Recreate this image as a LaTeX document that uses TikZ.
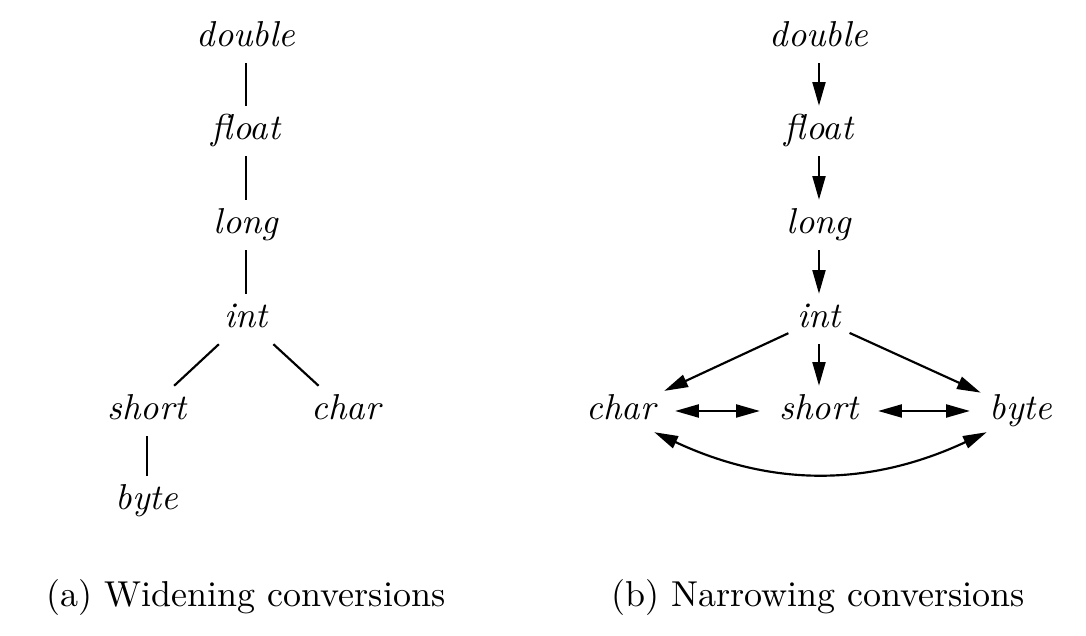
\documentclass[tikz,border=0pt]{standalone}
\usetikzlibrary{arrows.meta}
\begin{document}
\begin{tikzpicture}[x=0.2778pt,y=-0.2778pt,
  lbl/.style={font=\itshape, inner sep=0pt, outer sep=2.5pt, text height=7pt, text depth=2pt, anchor=base},
  captext/.style={inner sep=0pt, anchor=base},
  conn/.style={line width=0.6pt},
  arr/.style={line width=0.6pt, -{Triangle[length=6.6pt,width=3.6pt]}},
  darr/.style={line width=0.6pt, {Triangle[length=6.6pt,width=3.6pt]}-{Triangle[length=6.6pt,width=3.6pt]}}
]
\useasboundingbox (0,0) rectangle (1086,636);
% (a) widening
\node[lbl] (ad) at (246,47) {double};
\node[lbl] (af) at (246,140) {float};
\node[lbl] (al) at (246,234) {long};
\node[lbl] (ai) at (246,328) {int};
\node[lbl] (as) at (147,420) {short};
\node[lbl] (ac) at (346,420) {char};
\node[lbl] (ab) at (147,510) {byte};
\draw[conn] (ad) -- (af);
\draw[conn] (af) -- (al);
\draw[conn] (al) -- (ai);
\draw[conn] (ai) -- (as);
\draw[conn] (ai) -- (ac);
\draw[conn] (as) -- (ab);
\node[captext] (capa) at (246,607) {(a) Widening conversions};
% (b) narrowing
\node[lbl] (bd) at (819,47) {double};
\node[lbl] (bf) at (819,140) {float};
\node[lbl] (bl) at (819,234) {long};
\node[lbl] (bi) at (819,328) {int};
\node[lbl] (bc) at (621,420) {char};
\node[lbl] (bs) at (819,420) {short};
\node[lbl] (bb) at (1021,420) {byte};
\draw[arr] (bd) -- (bf);
\draw[arr] (bf) -- (bl);
\draw[arr] (bl) -- (bi);
\draw[arr] (bi) -- (bc);
\draw[arr] (bi) -- (bs);
\draw[arr] (bi) -- (bb);
\draw[darr, shorten <=3pt, shorten >=3pt] (bc) -- (bs);
\draw[darr, shorten <=3pt, shorten >=3pt] (bs) -- (bb);
\draw[darr] ([shift={(-10,-4)}]bc.south east) to[bend right=25] ([shift={(6,-4)}]bb.south west);
\node[captext] (capb) at (818,607) {(b) Narrowing conversions};
\end{tikzpicture}
\end{document}
